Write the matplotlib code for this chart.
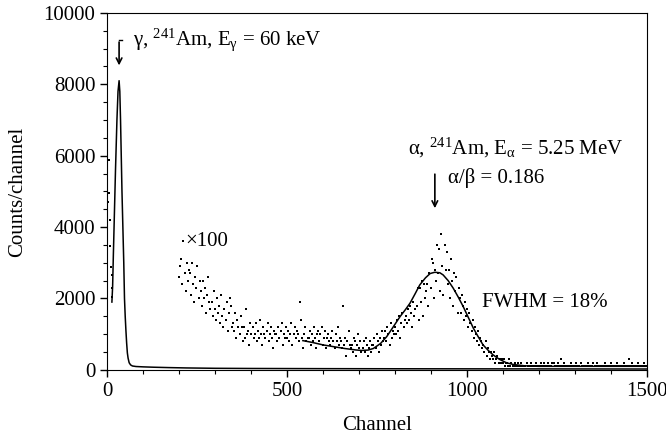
import numpy as np
import matplotlib
matplotlib.use('Agg')
import matplotlib.pyplot as plt

plt.rcParams['font.family'] = ['Liberation Serif', 'DejaVu Serif']
plt.rcParams['mathtext.fontset'] = 'custom'
plt.rcParams['mathtext.rm'] = 'Liberation Serif'
plt.rcParams['mathtext.it'] = 'Liberation Serif:italic'

# gamma peak, counts x1 (channel, counts)
gamma_ch = [13, 15, 17, 19.5, 23, 27, 30, 33, 35, 37, 39, 41, 43.5, 46, 48, 50, 52, 54,
            56, 58, 61, 65, 70, 80, 100, 130, 170, 220, 300, 400, 600, 800, 1000, 1200, 1500]
gamma_counts = [1900, 2330, 3200, 4200, 5600, 7000, 7800, 8100, 7800, 7000, 6000, 5000,
                4000, 3000, 2000, 1500, 1100, 750, 475, 330, 200, 140, 110, 95, 85, 75, 65,
                55, 45, 40, 35, 32, 30, 28, 25]

# stray points in the first channels
stray_ch = [6, 4, 3, 8, 9, 11, 12, 13, 13]
stray_counts = [5880, 4950, 4690, 4200, 3470, 2880, 2650, 2290, 2050]

# alpha region, raw counts per channel (plotted x100), every 3rd channel from 200
counts_low = [
    26, 29, 31, 24, 36, 27, 22, 30, 25, 28,
    27, 21, 30, 24, 19, 26, 23, 29, 20, 25,
    22, 18, 25, 20, 23, 16, 21, 26, 19, 17,
    19, 15, 22, 17, 14, 20, 16, 18, 13, 21,
    15, 12, 17, 14, 19, 11, 16, 20, 18, 12,
    13, 11, 16, 9, 14, 12, 10, 15, 12, 8,
    12, 9, 17, 10, 11, 7, 13, 10, 12, 9,
    10, 13, 8, 11, 9, 14, 10, 7, 12, 10,
    9, 11, 13, 8, 10, 12, 9, 6, 11, 10,
    10, 8, 12, 9, 11, 13, 7, 10, 9, 12,
    9, 11, 8, 10, 13, 7, 10, 12, 9, 11,
    10, 8, 19, 14, 9, 6, 10, 12, 8, 9,
    9, 11, 7, 10, 8, 12, 9, 6, 10, 11,
    8, 10, 12, 7, 9, 11, 6, 9, 10, 8,
    7, 9, 11, 8, 6, 10, 8, 12, 7, 9,
    8, 6, 18, 7, 9, 4, 8, 11, 7, 6,
    7, 5, 9, 8, 4, 7, 10, 6, 8, 5,
    6, 8, 5, 9, 7, 4, 6, 8, 5, 7,
]
counts_peak = [
    7, 9, 6, 10, 8, 5, 9, 7, 11, 8,
    9, 11, 8, 12, 10, 7, 13, 9, 11, 10,
    12, 10, 14, 11, 15, 9, 13, 16, 12, 14,
    15, 13, 17, 14, 18, 16, 12, 19, 15, 17,
    18, 23, 14, 23, 19, 25, 15, 24, 20, 22,
    24, 18, 27, 23, 31, 30, 20, 28, 25, 35,
    27, 34, 22, 38, 29, 21, 35, 28, 33, 24,
    28, 20, 31, 25, 18, 27, 22, 26, 16, 23,
    20, 16, 21, 18, 14, 19, 15, 17, 12, 16,
    13, 11, 14, 9, 12, 10, 8, 11, 7, 9,
    8, 6, 7, 5, 8, 4, 6, 5, 3, 5,
    4, 3, 5, 2, 3, 4, 2, 3, 2, 3,
]
counts_tail = [
    2, 3, 1, 2, 2, 1, 3, 1, 2, 1,
    1, 2, 1, 1, 2, 1, 1, 2, 1, 1,
    1, 1, 2, 1, 1, 1, 2, 1, 1, 1,
    1, 2, 1, 1, 1, 2, 1, 1, 2, 1,
    1, 1, 2, 1, 1, 1, 2, 2, 1, 1,
    1, 2, 1, 1, 3, 1, 1, 2, 1, 1,
    1, 1, 1, 2, 1, 1, 1, 1, 2, 1,
    1, 1, 2, 1, 1, 1, 1, 1, 1, 2,
    1, 1, 1, 1, 2, 1, 1, 2, 1, 1,
    1, 1, 1, 1, 1, 2, 1, 1, 1, 1,
    2, 1, 1, 1, 1, 1, 2, 1, 1, 1,
    1, 1, 2, 1, 1, 1, 1, 3, 1, 1,
    2, 1, 1, 1, 1, 2, 1, 1, 1, 1,
    1, 2, 1, 1,
]
scale = 100

# gaussian fit of the alpha peak (x100 scale)
fit_ch = [544, 570, 600, 630, 660, 690, 707, 725, 740, 760, 777, 795, 814, 830, 842, 856,
          869, 885, 898, 911, 925, 934, 948, 962, 976, 990, 1004, 1018, 1032, 1045, 1060,
          1073, 1090, 1110, 1130, 1160, 1200, 1300, 1400, 1500]
fit_counts = [820, 770, 700, 650, 600, 560, 545, 555, 600, 740, 930, 1200, 1490, 1700, 1870,
              2130, 2380, 2580, 2700, 2735, 2720, 2660, 2500, 2290, 2040, 1770, 1470, 1170,
              920, 700, 540, 420, 300, 200, 150, 115, 100, 100, 100, 100]

alpha_counts = np.array(counts_low + counts_peak + counts_tail) * scale
alpha_ch = 200 + 3 * np.arange(len(alpha_counts))
keep = alpha_ch <= 1500

fig = plt.figure(figsize=(6.66, 4.43), dpi=100)
ax = fig.add_axes([0.161, 0.165, 0.81, 0.806])

ax.plot(alpha_ch[keep], alpha_counts[keep], 's', ms=1.8, mew=0, color='black')
ax.plot(fit_ch, fit_counts, color='black', lw=1.1)
ax.plot(gamma_ch, gamma_counts, color='black', lw=1.1)
ax.plot(stray_ch, stray_counts, 's', ms=1.8, mew=0, color='black')

fs = 15
ax.set_xlim(0, 1500)
ax.set_ylim(0, 10000)
ax.set_xticks([0, 500, 1000, 1500])
ax.set_xticks(np.arange(0, 1501, 100), minor=True)
ax.set_yticks(np.arange(0, 10001, 2000))
ax.set_yticks(np.arange(0, 10001, 500), minor=True)
ax.tick_params(which='both', direction='out', top=False, right=False, labelsize=fs)
ax.tick_params(which='major', length=5, width=1)
ax.tick_params(which='minor', length=3, width=0.8)
ax.set_xlabel('Channel', fontsize=fs, labelpad=11)
ax.set_ylabel('Counts/channel', fontsize=fs, labelpad=12)

# annotations
ax.text(72, 9240, r'γ, $^{241}$Am, E$_{\mathrm{γ}}$ = 60 keV', fontsize=fs, va='center')
ax.plot([33, 40], [9250, 9250], color='black', lw=1)
ax.annotate('', xy=(33, 8450), xytext=(33, 9260),
            arrowprops=dict(arrowstyle='->', color='black', lw=1.2))

ax.text(836, 6220, r'α, $^{241}$Am, E$_{\mathrm{α}}$ = 5.25 MeV', fontsize=fs, va='center')
ax.text(947, 5380, 'α/β = 0.186', fontsize=fs, va='center')
ax.annotate('', xy=(911, 4450), xytext=(911, 5560),
            arrowprops=dict(arrowstyle='->', color='black', lw=1.2))
ax.text(1041, 1880, 'FWHM = 18%', fontsize=fs, va='center')
ax.text(217, 3610, '×100', fontsize=fs, va='center')

plt.savefig('out.png', dpi=100)
